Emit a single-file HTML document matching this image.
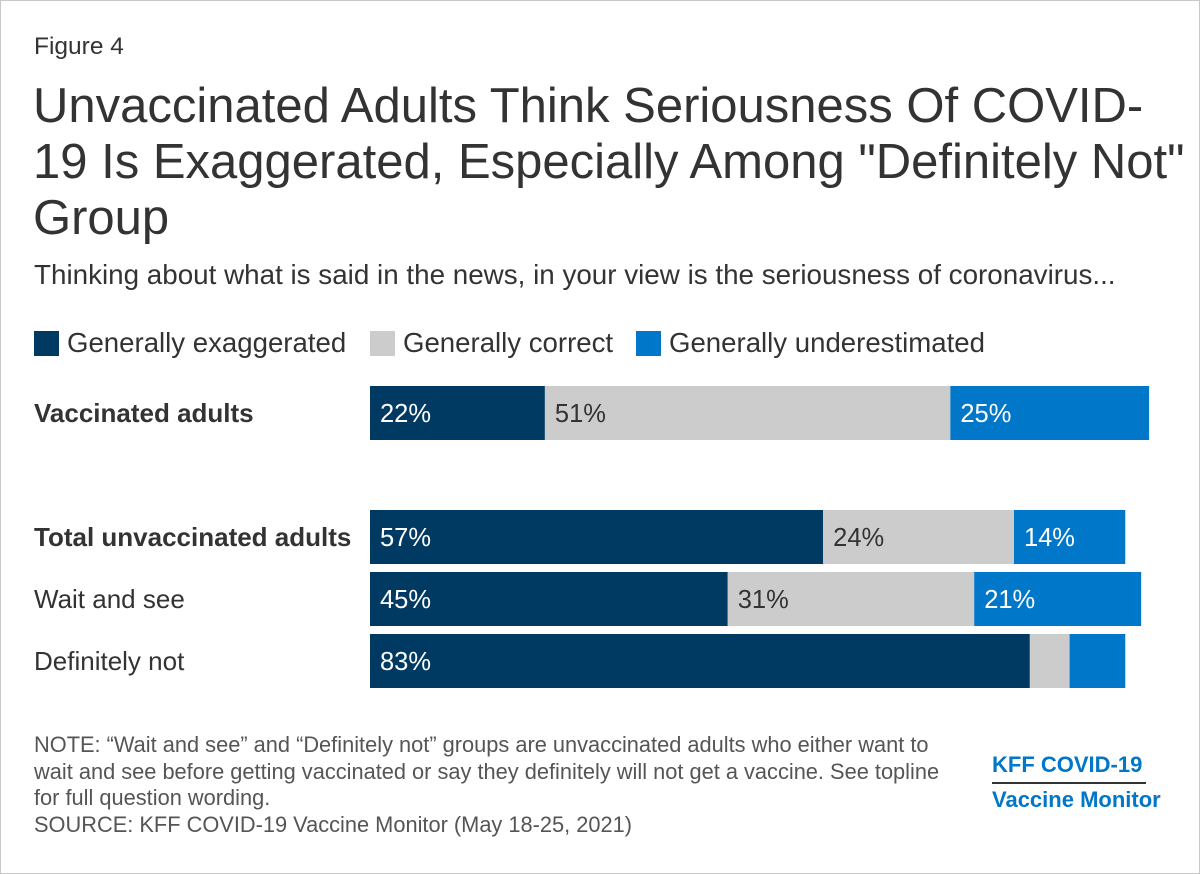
<!DOCTYPE html>
<html><head><meta charset="utf-8"><style>
body{margin:0;background:#fff;font-family:"Liberation Sans",sans-serif;}
#frame{position:absolute;left:0;top:0;width:1198px;height:872px;border:1px solid #c8c8c8;}
.t{position:absolute;white-space:nowrap;color:#333;}
</style></head><body>
<div id="frame"></div>
<div class="t" style="left:34px;top:33px;font-size:24.5px">Figure 4</div>
<div class="t" style="left:33px;top:78px;font-size:49px;line-height:56px">Unvaccinated Adults Think Seriousness Of COVID-<br>19 Is Exaggerated, Especially Among "Definitely Not"<br>Group</div>
<div class="t" style="left:34px;top:259px;font-size:27.8px">Thinking about what is said in the news, in your view is the seriousness of coronavirus...</div>
<svg id="chart" width="1200" height="874" style="position:absolute;left:0;top:0"></svg>
<div class="t" style="left:34px;top:732px;font-size:21.8px;line-height:26.5px;color:#555">NOTE: “Wait and see” and “Definitely not” groups are unvaccinated adults who either want to<br>wait and see before getting vaccinated or say they definitely will not get a vaccine. See topline<br>for full question wording.<br>SOURCE: KFF COVID-19 Vaccine Monitor (May 18-25, 2021)</div>
<div class="t" style="left:992px;top:752px;font-size:22px;font-weight:bold;color:#0077c8">KFF COVID-19</div>
<div style="position:absolute;left:992px;top:782px;width:154px;height:2px;background:#333"></div>
<div class="t" style="left:992px;top:787px;font-size:22px;font-weight:bold;color:#0077c8">Vaccine Monitor</div>
<script>
const categories=["Vaccinated adults","Total unvaccinated adults","Wait and see","Definitely not"];
const exaggerated=[22,57,45,83];
const correct=[51,24,31,5];
const underestimated=[25,14,21,7];
const showLabels=[[true,true,true],[true,true,true],[true,true,true],[true,false,false]];
const boldCat=[true,true,false,false];
const seriesNames=["Generally exaggerated","Generally correct","Generally underestimated"];
const colors=["#003a63","#cccccc","#0077c8"];
const rowTop=[386,510,572,634];
const x0=370, k=7.95, bh=54;
const xs=v=>x0+v*k;
const svg=document.getElementById('chart');
const NS="http://www.w3.org/2000/svg";
const series=[exaggerated,correct,underestimated];
function txt(x,y,size,fill,str,bold){
  const t=document.createElementNS(NS,'text');
  t.setAttribute('x',x);t.setAttribute('y',y);
  t.setAttribute('font-size',size);t.setAttribute('fill',fill);
  if(bold)t.setAttribute('font-weight','bold');
  t.textContent=str;
  svg.appendChild(t);
  return t;
}
categories.forEach((c,i)=>{
  const lab=txt(34,rowTop[i]+36,26,'#333',c,boldCat[i]);
  
  
  let cum=0;
  series.forEach((s,j)=>{
    const v=s[i];
    const r=document.createElementNS(NS,'rect');
    r.setAttribute('x',xs(cum));r.setAttribute('y',rowTop[i]);
    r.setAttribute('width',v*k);r.setAttribute('height',bh);r.setAttribute('fill',colors[j]);
    
    
    svg.appendChild(r);
    if(showLabels[i][j]){
      const t=txt(xs(cum)+10,rowTop[i]+36,25.5,j==1?'#333':'#fff',v+'%',false);
      
      
    }
    cum+=v;
  });
});
const legX=[34,370,636];
seriesNames.forEach((n,j)=>{
  const r=document.createElementNS(NS,'rect');
  r.setAttribute('x',legX[j]);r.setAttribute('y',331);r.setAttribute('width',25);r.setAttribute('height',25);r.setAttribute('fill',colors[j]);
  
  
  svg.appendChild(r);
  const t=txt(legX[j]+33,352,27.6,'#333',n,false);
  
  
});
</script>
</body></html>
